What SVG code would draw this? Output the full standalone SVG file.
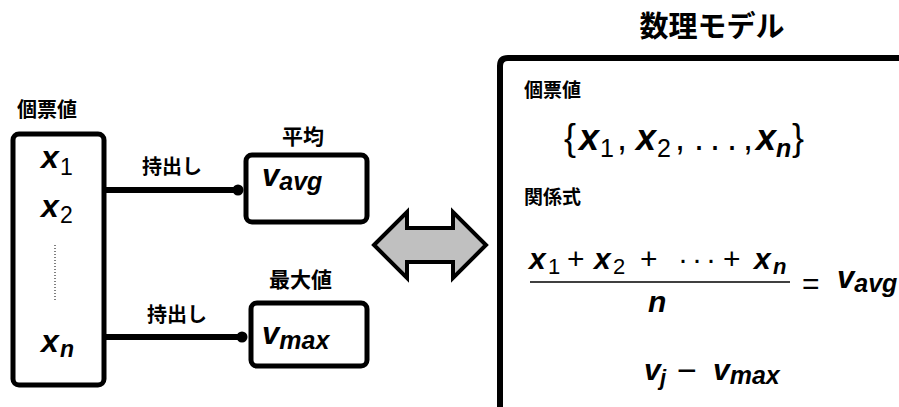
<svg xmlns="http://www.w3.org/2000/svg" width="899" height="407" viewBox="0 0 899 407">
<style>
.jp{font-family:"Noto Sans CJK JP","Noto Sans",sans-serif;font-weight:700;fill:#000}
.m{font-family:"Liberation Sans",Arial,sans-serif;font-style:italic;font-weight:700;fill:#000}
.s{font-family:"Liberation Sans",Arial,sans-serif;font-style:normal;font-weight:400;fill:#000}
.box{fill:#fff;stroke:#000;stroke-width:5}
.conn{stroke:#000;stroke-width:6;fill:none}
</style>
<rect width="899" height="407" fill="#fff"/>
<g id="values">
<text class="jp" x="17" y="117" font-size="20">個票値</text>
<rect class="box" x="13" y="134" width="91" height="251" rx="6"/>
<text class="m" x="41" y="168" font-size="32">x</text><text class="s" x="60" y="175" font-size="23">1</text>
<text class="m" x="41" y="217" font-size="32">x</text><text class="s" x="60" y="223" font-size="23">2</text>
<line x1="55" y1="245" x2="55" y2="300" stroke="#000" stroke-width="1" stroke-dasharray="1,2"/>
<text class="m" x="41" y="352" font-size="32">x</text><text class="m" x="60" y="357" font-size="23" font-weight="400">n</text>
</g>
<g id="avg">
<text class="jp" x="282" y="144" font-size="21">平均</text>
<rect class="box" x="246" y="155" width="121" height="67" rx="6"/>
<text class="m" x="262" y="186" font-size="31">v<tspan font-size="25" dy="4">avg</tspan></text>
</g>
<g id="max">
<text class="jp" x="269" y="287" font-size="21">最大値</text>
<rect class="box" x="251" y="303" width="116" height="63" rx="6"/>
<text class="m" x="262" y="344" font-size="31">v<tspan font-size="25" dy="5">max</tspan></text>
</g>
<g id="model">
<text class="jp" x="712" y="37" font-size="29" text-anchor="middle">数理モデル</text>
<path d="M500,420 V66 Q500,58 508,58 H910" fill="#fff" stroke="#000" stroke-width="6"/>
<text class="jp" x="524" y="97" font-size="19">個票値</text>
<g font-size="36">
<text class="s" x="564" y="150">{</text>
<text class="m" x="579" y="150">x</text>
<text class="s" x="600" y="157" font-size="25">1</text>
<text class="s" x="617" y="150">,</text>
<text class="m" x="636" y="150">x</text>
<text class="s" x="657" y="157" font-size="25">2</text>
<text class="s" x="675" y="150">,</text>
<text class="s" x="694" y="150">.</text>
<text class="s" x="710" y="150">.</text>
<text class="s" x="727" y="150">.</text>
<text class="s" x="743" y="150">,</text>
<text class="m" x="756" y="150">x</text>
<text class="m" x="776" y="157" font-size="25" font-weight="400">n</text>
<text class="s" x="792" y="150">}</text>
</g>
<text class="jp" x="524" y="204" font-size="19">関係式</text>
<g font-size="30">
<text class="m" x="529" y="269">x</text>
<text class="s" x="548" y="274" font-size="22">1</text>
<text class="s" x="567" y="269">+</text>
<text class="m" x="594" y="269">x</text>
<text class="s" x="613" y="274" font-size="22">2</text>
<text class="s" x="640" y="269">+</text>
<text class="s" x="678" y="269">·</text>
<text class="s" x="692" y="269">·</text>
<text class="s" x="706" y="269">·</text>
<text class="s" x="723" y="269">+</text>
<text class="m" x="754" y="269">x</text>
<text class="m" x="773" y="274" font-size="22" font-weight="400">n</text>
</g>
<line x1="530" y1="282" x2="790" y2="282" stroke="#000" stroke-width="1.5"/>
<text class="m" x="648" y="312" font-size="30">n</text>
<text class="s" x="802" y="294" font-size="30">=</text>
<text class="m" x="837" y="288" font-size="31">v<tspan font-size="25" dy="4">avg</tspan></text>
<text class="m" x="644" y="380" font-size="30">v</text>
<text class="m" x="660" y="385" font-size="22" font-weight="400">j</text>
<text class="s" x="677" y="382" font-size="34">−</text>
<text class="m" x="713" y="380" font-size="30">v<tspan font-size="25" dy="4">max</tspan></text>
</g>
<g id="double-arrow">
<path d="M374,245 L407,212 V228 H453 V212 L486,245 L453,278 V262 H407 V278 Z" fill="#c0c0c0" stroke="#000" stroke-width="4" stroke-linejoin="miter"/>
</g>
<g id="connectors">
<text class="jp" x="142" y="174" font-size="20">持出し</text>
<line class="conn" x1="104" y1="190" x2="236" y2="190"/>
<circle cx="238" cy="190" r="5.5"/>
<text class="jp" x="147" y="322" font-size="20">持出し</text>
<line class="conn" x1="104" y1="337" x2="240" y2="337"/>
<circle cx="242" cy="337" r="5.5"/>
</g>
</svg>
